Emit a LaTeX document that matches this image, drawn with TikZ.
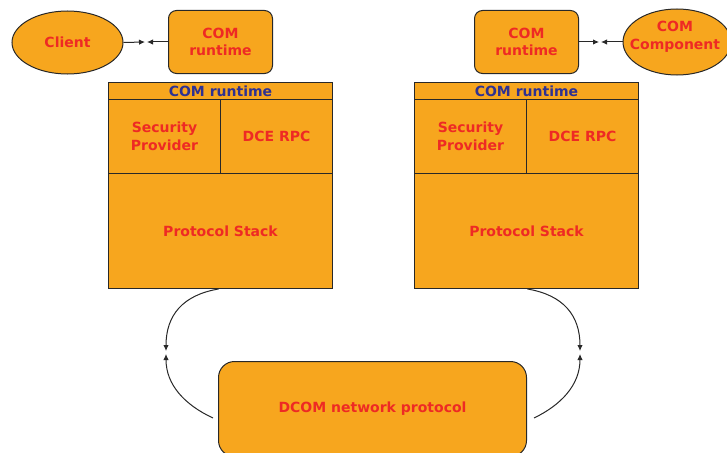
\documentclass[tikz,border=0pt]{standalone}
\usepackage{fontspec}
\setmainfont{DejaVu Sans}
\usetikzlibrary{shapes.geometric,arrows.meta,calc}
\definecolor{boxfill}{RGB}{247,166,30}
\definecolor{labelred}{RGB}{238,42,36}
\definecolor{labelblue}{RGB}{46,49,146}
\definecolor{edge}{RGB}{40,40,40}
\tikzset{
  lbl/.style={font=\bfseries\fontsize{14}{17.5}\selectfont, text=labelred, align=center},
  part/.style={draw=edge, fill=boxfill, line width=1pt, inner sep=0pt, anchor=north west, lbl},
  rt/.style={part, rounded corners=8pt},
  head/.style={part, text=labelblue},
  oval/.style={ellipse, draw=edge, fill=boxfill, line width=1pt, inner sep=0pt},
  link/.style={draw=edge, line width=1pt, -{Latex[length=6pt,width=5.5pt]}},
}
\begin{document}
\begin{tikzpicture}[x=1pt,y=-1pt]
\useasboundingbox (0,0) rectangle (727,452);

% client side, top row
\node[oval, minimum width=111pt, minimum height=63pt,
      label={[lbl]center:Client}] (client) at (67.5,42.5) {};
\node[rt, minimum width=104pt, minimum height=63pt] (lrt) at (168,10) {COM\\runtime};
\coordinate (lmidA) at (145,42);
\coordinate (lmidB) at (147,42);
\draw[link] (client.east) -- (lmidA);
\draw[link] (lrt.west |- lmidB) -- (lmidB);

% server side, top row
\node[rt, minimum width=104pt, minimum height=63pt] (rrt) at (474,10) {COM\\runtime};
\node[oval, minimum width=108pt, minimum height=66pt,
      label={[lbl, xshift=-2pt, yshift=5pt]center:COM\\Component}] (comp) at (677,42) {};
\coordinate (rmidA) at (599,42);
\coordinate (rmidB) at (601,42);
\draw[link] (rrt.east |- rmidA) -- (rmidA);
\draw[link] (comp.west) -- (rmidB);

% client stack
\node[head, minimum width=224pt, minimum height=17pt] (lhead) at (108,82) {COM runtime};
\node[part, minimum width=112pt, minimum height=74pt] (lsec) at (108,99) {Security\\Provider};
\node[part, minimum width=112pt, minimum height=74pt] (lrpc) at (220,99) {DCE RPC};
\node[part, minimum width=224pt, minimum height=115pt, text depth=0pt] (lproto) at (108,173) {Protocol Stack};

% server stack
\node[head, minimum width=224pt, minimum height=17pt] (rhead) at (414,82) {COM runtime};
\node[part, minimum width=112pt, minimum height=74pt] (rsec) at (414,99) {Security\\Provider};
\node[part, minimum width=112pt, minimum height=74pt] (rrpc) at (526,99) {DCE RPC};
\node[part, minimum width=224pt, minimum height=115pt, text depth=0pt] (rproto) at (414,173) {Protocol Stack};

% wire protocol
\node[part, rounded corners=16pt, minimum width=308pt, minimum height=95pt] (dcom) at (218,361) {DCOM network protocol};

% links between the stacks and the wire
\coordinate (lin) at (166,351);
\coordinate (lout) at (166,354);
\coordinate (rin) at (580,351);
\coordinate (rout) at (580,354);
\draw[link] ([xshift=-2pt]lproto.south) .. controls (183,295) and (166,315) .. (lin);
\draw[link] ([xshift=-5pt,yshift=-9pt]dcom.west) .. controls (185,405) and (166,385) .. (lout);
\draw[link] ([xshift=1pt]rproto.south) .. controls (563,295) and (580,315) .. (rin);
\draw[link] ([xshift=7pt,yshift=-9pt]dcom.east) .. controls (561,405) and (580,385) .. (rout);
\end{tikzpicture}
\end{document}
